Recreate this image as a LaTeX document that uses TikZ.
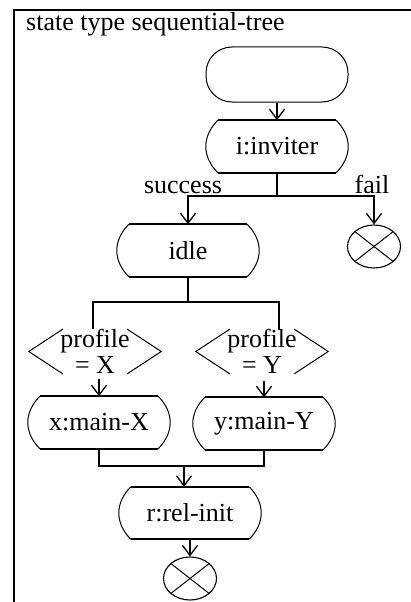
\documentclass[tikz,border=0pt]{standalone}
\usepackage{fontspec}
\setmainfont{Liberation Serif}
\usetikzlibrary{shapes.geometric,arrows.meta,calc}
\tikzset{
  every node/.append style={font=\fontsize{26pt}{26pt}\selectfont, inner sep=0pt},
  conn/.style={line width=1.8pt},
  arr/.style={conn, -{Straight Barb[length=10pt,width=15pt,line width=1.3pt]}},
  flat/.style={line width=2pt},
  curve/.style={line width=1pt},
  frame/.style={line width=2pt},
  stnode/.style={minimum width=118pt, minimum height=52pt, align=center},
  startnode/.style={draw, line width=1pt, rounded corners=26pt, minimum width=142pt, minimum height=55pt},
  decnode/.style={minimum width=132pt, minimum height=37pt, align=center},
  term/.style={ellipse, draw, line width=1.1pt, minimum width=53pt, minimum height=43pt},
  lbl/.style={anchor=base}
}
\newcommand\stshape[1]{%
  \draw[flat] (#1.north west) -- (#1.north east);
  \draw[flat] (#1.south west) -- (#1.south east);
  \draw[curve] (#1.north west) .. controls ($(#1.north west)+(-16,16)$) and ($(#1.south west)+(-16,-16)$) .. (#1.south west);
  \draw[curve] (#1.north east) .. controls ($(#1.north east)+(16,16)$) and ($(#1.south east)+(16,-16)$) .. (#1.south east);
}
\newcommand\decshape[1]{%
  \draw[curve] ($(#1.north west)+(34,0)$) -- (#1.west) -- ($(#1.south west)+(34,0)$);
  \draw[curve] ($(#1.north east)+(-34,0)$) -- (#1.east) -- ($(#1.south east)+(-34,0)$);
}
\newcommand\termx[1]{%
  \draw[curve] (#1.38) -- (#1.218);
  \draw[curve] (#1.142) -- (#1.322);
}
\begin{document}
\begin{tikzpicture}[x=1pt,y=-1pt]
\useasboundingbox (0,0) rectangle (411,602);
% frame
\draw[frame] (14,602) -- (14,10.5) -- (411,10.5);
\node[anchor=base west] (title) at (26,31) {state type sequential-tree};

% nodes
\node[startnode] (s) at (277,74.5) {};
\node[stnode] (i) at (277,146.5) {i:inviter};
\node[stnode] (idle) at (188,250.5) {idle};
\node[term] (fail) at (374,246.5) {};
\node[decnode] (d1) at (95,351.5) {profile\\= X};
\node[decnode] (d2) at (262,351.5) {profile\\= Y};
\node[stnode] (x1) at (99,422.5) {x:main-X};
\node[stnode] (y1) at (264,423.5) {y:main-Y};
\node[stnode] (r) at (190,513) {r:rel-init};
\node[term] (end) at (190,578.5) {};

\stshape{i}
\stshape{idle}
\stshape{x1}
\stshape{y1}
\stshape{r}
\decshape{d1}
\decshape{d2}
\termx{fail}
\termx{end}

% labels
\node[lbl] (succ) at (183,193) {success};
\node[lbl] (fl) at (372,193) {fail};

% connectors
\coordinate (j1) at (279,196);
\coordinate (j2) at (187,302);
\coordinate (e1) at (93,329);
\coordinate (e2) at (279,330);
\coordinate (j3) at (184,466);

\draw[arr] (s.south) -- (i.north);
\draw[conn] (i.south) -- (i.south |- j1);
\draw[arr] (i.south |- j1) -| (idle.north);
\draw[arr] (i.south |- j1) -| (fail.north);
\draw[conn] (idle.south) -- (idle.south |- j2);
\draw[conn] (e1) |- (e2 |- j2) -- (e2);
\draw[arr] (x1.north |- d1.south) ++(0,5) -- (x1.north);
\draw[arr] (y1.north |- d2.south) ++(0,7) -- (y1.north);
\draw[conn] (x1.south) |- (y1.south |- j3) -- (y1.south);
\draw[arr] (j3) -- (j3 |- r.north);
\draw[arr] (r.south) -- (end.north);
\end{tikzpicture}
\end{document}
